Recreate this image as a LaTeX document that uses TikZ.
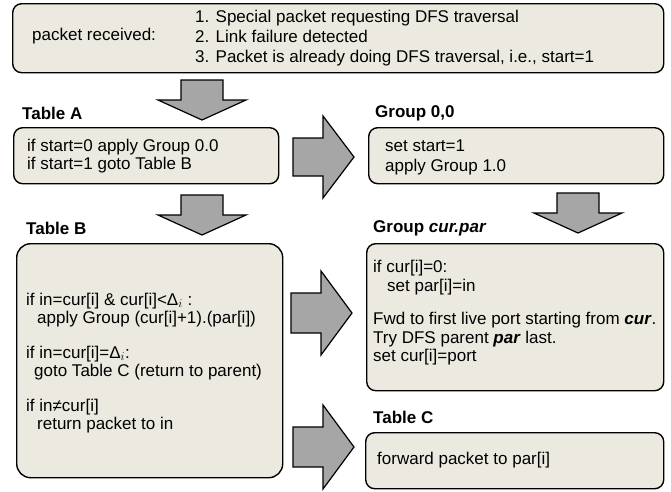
\documentclass[tikz,border=0pt]{standalone}
\usepackage{fontspec}
\setmainfont{Liberation Sans}
\definecolor{boxfill}{RGB}{236,234,224}
\definecolor{arrowfill}{RGB}{166,166,166}
\tikzset{
	box/.style={
		draw,
		fill=boxfill,
		line width=1.4pt,
		rounded corners=9pt,
		anchor=north west,
		inner sep=0
	},
	blockarrow/.style={
		draw,
		fill=arrowfill,
		line width=1.2pt,
		line join=miter
	},
	txt/.style={
		anchor=west,
		align=left,
		inner sep=0,
		font=\fontsize{17}{18.5}\selectfont
	},
	title/.style={
		anchor=west,
		inner sep=0,
		font=\fontsize{17}{18.5}\selectfont\bfseries
	}
}

\begin{document}
\begin{tikzpicture}[x=1pt,y=-1pt]
		\useasboundingbox (0,0) rectangle (671,491);
		% boxes
		\node[box, minimum width=651pt, minimum height=69pt] (recv) at (12,3) {};
		\node[box, minimum width=265pt, minimum height=56pt] (tabA) at (13,127) {};
		\node[box, minimum width=295pt, minimum height=56pt] (grp) at (368,127) {};
		\node[box, minimum width=266pt, minimum height=234pt, rounded corners=14pt] (tabB) at (16,243) {};
		\node[box, minimum width=297pt, minimum height=147pt] (grpcp) at (366,243) {};
		\node[box, minimum width=298pt, minimum height=56pt] (tabC) at (365,432) {};
		
		% titles
		\node[title] (tabAttl) at (22,113) {Table A};
		\node[title] (grpttl) at (375,113) {Group 0,0};
		\node[title] (tabBttl) at (26,228) {Table B};
		\node[title] (grpcpttl) at (373,228) {Group \textit{cur.par}};
		\node[title] (tabCttl) at (373,417) {Table C};
		
		% texts
		\node[txt] (recvlbl) at (32,36) {packet received:};
		\node[txt, font=\fontsize{17}{20}\selectfont] (recvlist) at (195,38) {1. Special packet requesting DFS traversal\\2. Link failure detected\\3. Packet is already doing DFS traversal, i.e., start=1};
		\node[txt] (tabAtxt) at (27,156) {if start=0 apply Group 0.0\\if start=1 goto Table B};
		\node[txt, font=\fontsize{17}{20}\selectfont] (grptxt) at (385,157) {set start=1\\apply Group 1.0};
		\node[txt] (tabBtxt) at (26,363) {if in=cur[i] \& cur[i]<Δ$_i$ :\\\hspace{11pt}apply Group (cur[i]+1).(par[i])\\[16pt]if in=cur[i]=Δ$_i$:\\\hspace{8pt}goto Table C (return to parent)\\[16pt]if in≠cur[i]\\\hspace{11pt}return packet to in};
		\node[txt] (grpcptxt) at (373,313) {if cur[i]=0:\\\hspace{14pt}set par[i]=in\\[15pt]Fwd to first live port starting from \textbf{\textit{cur}}.\\Try DFS parent \textbf{\textit{par}} last.\\set cur[i]=port};
		\node[txt] (tabCtxt) at (377,460) {forward packet to par[i]};
		
		% block arrows
		\coordinate (a1) at (202,120);
		\coordinate (a2) at (202,235);
		\coordinate (a3) at (578,233);
		\coordinate (b1) at (354,157);
		\coordinate (b2) at (352,313);
		\coordinate (b3) at (354,447);
		\draw[blockarrow] (a1) -- ++(-44,-20) -- ++(23,0) -- ++(0,-20) -- ++(42,0) -- ++(0,20) -- ++(23,0) -- cycle;
		\draw[blockarrow] (a2) -- ++(-44,-20) -- ++(23,0) -- ++(0,-20) -- ++(42,0) -- ++(0,20) -- ++(23,0) -- cycle;
		\draw[blockarrow] (a3) -- ++(-44,-20) -- ++(23,0) -- ++(0,-20) -- ++(42,0) -- ++(0,20) -- ++(23,0) -- cycle;
		\draw[blockarrow] (b1) -- ++(-31,-41) -- ++(0,22) -- ++(-30,0) -- ++(0,38) -- ++(30,0) -- ++(0,22) -- cycle;
		\draw[blockarrow] (b2) -- ++(-31,-42) -- ++(0,22) -- ++(-30,0) -- ++(0,40) -- ++(30,0) -- ++(0,22) -- cycle;
		\draw[blockarrow] (b3) -- ++(-31,-42) -- ++(0,22) -- ++(-30,0) -- ++(0,40) -- ++(30,0) -- ++(0,22) -- cycle;
\end{tikzpicture}
\end{document}
